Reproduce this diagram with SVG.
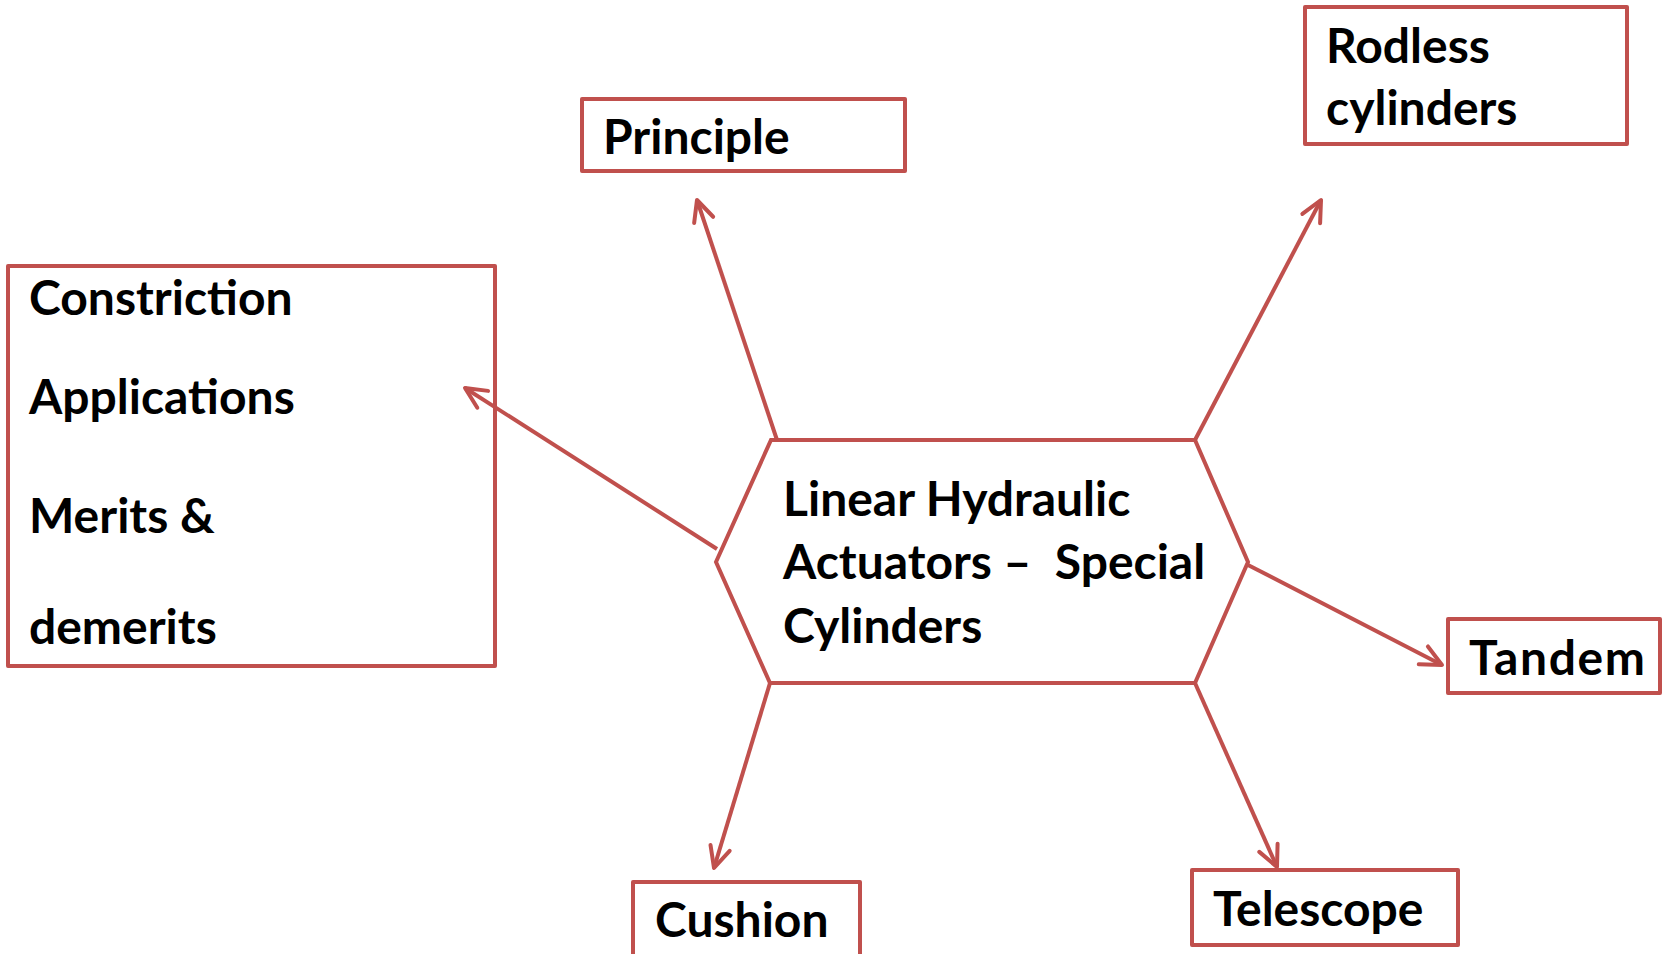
<svg xmlns="http://www.w3.org/2000/svg" width="1662" height="954" viewBox="0 0 1662 954">
<style>
.box{fill:#fff;stroke:#C0504D;stroke-width:4;stroke-linejoin:round}
.hex{fill:#fff;stroke:#C0504D;stroke-width:4;stroke-linejoin:miter}
.lbl{font-family:Lato,"Liberation Sans",sans-serif;font-weight:bold;font-size:48px;fill:#000}
.con{fill:none;stroke:#C0504D;stroke-width:4;marker-end:url(#arr)}
</style>
<defs>
<marker id="arr" markerUnits="userSpaceOnUse" markerWidth="28" markerHeight="26" viewBox="-25 -13 28 26" refX="0" refY="0" orient="auto">
<path d="M-21,-10 L0,0 L-21,10" fill="none" stroke="#C0504D" stroke-width="4" stroke-linecap="round" stroke-linejoin="round"/>
</marker>
</defs>
<rect width="1662" height="954" fill="#fff"/>
<g id="center">
<polygon class="hex" points="771,440 1195,440 1248,562 1195,683 770,683 716,562"/>
<text class="lbl" x="783" y="516">Linear Hydraulic</text>
<text class="lbl" x="783" y="579" xml:space="preserve">Actuators –  Special</text>
<text class="lbl" x="783" y="643">Cylinders</text>
</g>
<g id="principle">
<rect class="box" x="582" y="99" width="323" height="72"/>
<text class="lbl" x="603" y="154">Principle</text>
</g>
<g id="rodless">
<rect class="box" x="1305" y="7" width="322" height="137"/>
<text class="lbl" x="1326" y="63">Rodless</text>
<text class="lbl" x="1326" y="125">cylinders</text>
</g>
<g id="left">
<rect class="box" x="8" y="266" width="487" height="400"/>
<text class="lbl" x="29" y="315">Constriction</text>
<text class="lbl" x="29" y="414">Applications</text>
<text class="lbl" x="29" y="533">Merits &amp;</text>
<text class="lbl" x="29" y="644">demerits</text>
</g>
<g id="tandem">
<rect class="box" x="1448" y="619" width="212" height="74"/>
<text class="lbl" x="1469" y="675" textLength="176">Tandem</text>
</g>
<g id="cushion">
<rect class="box" x="633" y="882" width="227" height="80"/>
<text class="lbl" x="655" y="937">Cushion</text>
</g>
<g id="telescope">
<rect class="box" x="1192" y="870" width="266" height="75"/>
<text class="lbl" x="1213" y="926">Telescope</text>
</g>
<g id="connectors">
<line class="con" x1="777" y1="440" x2="697" y2="200"/>
<line class="con" x1="1195" y1="440" x2="1321" y2="200"/>
<line class="con" x1="717" y1="549" x2="465" y2="388"/>
<line class="con" x1="1248" y1="565" x2="1442" y2="665"/>
<line class="con" x1="770" y1="683" x2="714" y2="868"/>
<line class="con" x1="1195" y1="683" x2="1277" y2="867"/>
</g>
</svg>
